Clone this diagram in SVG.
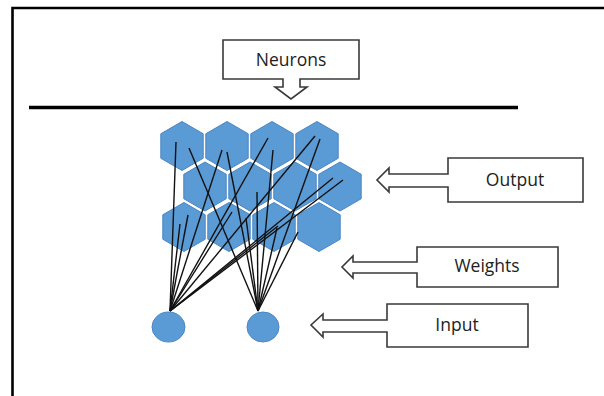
<svg xmlns="http://www.w3.org/2000/svg" width="604" height="396" viewBox="0 0 604 396">
<defs>
<style>
.frame{stroke:#000;stroke-width:2.6;fill:none}
.callout{fill:#fff;stroke:#3a3a3a;stroke-width:1.6;stroke-linejoin:miter}
.lbl{font-family:"Open Sans","DejaVu Sans",sans-serif;font-size:17.5px;fill:#222;text-anchor:middle}
.hex{fill:#5B9BD5;stroke:#4a86c2;stroke-width:1}
.node{fill:#5B9BD5;stroke:#4a86c2;stroke-width:1}
.w{stroke:#111;stroke-width:1.4;fill:none}
</style>
<polygon id="hexshape" points="0,-24.5 21.2,-12.25 21.2,12.25 0,24.5 -21.2,12.25 -21.2,-12.25"/>
</defs>
<rect width="604" height="396" fill="#fff"/>
<path class="frame" d="M12.5,396 V8 H604"/>
<line x1="29" y1="107.5" x2="518" y2="107.5" stroke="#000" stroke-width="3.5"/>

<g id="neurons-label">
<path class="callout" d="M223,40 H359 V79 H300 V87 H307 L291,99 L275,87 H283 V79 H223 Z"/>
<text class="lbl" x="291" y="66">Neurons</text>
</g>
<g id="output-label">
<path class="callout" d="M448,158 H583 V202 H448 V187 H389 V192 L377,180 L389,168 V174 H448 Z"/>
<text class="lbl" x="515" y="186">Output</text>
</g>
<g id="weights-label">
<path class="callout" d="M417,247 H558 V287 H417 V273 H353 V278 L342,267 L353,256 V262 H417 Z"/>
<text class="lbl" x="487" y="272">Weights</text>
</g>
<g id="input-label">
<path class="callout" d="M387,304 H528 V347 H387 V332 H323 V337 L311,325 L323,314 V320 H387 Z"/>
<text class="lbl" x="457" y="331">Input</text>
</g>

<g id="output-neurons">
<use href="#hexshape" class="hex" x="182" y="146"/>
<use href="#hexshape" class="hex" x="227" y="146"/>
<use href="#hexshape" class="hex" x="272" y="146"/>
<use href="#hexshape" class="hex" x="317" y="146"/>
<use href="#hexshape" class="hex" x="205" y="186.5"/>
<use href="#hexshape" class="hex" x="250" y="186.5"/>
<use href="#hexshape" class="hex" x="295" y="186.5"/>
<use href="#hexshape" class="hex" x="340" y="186.5"/>
<use href="#hexshape" class="hex" x="184" y="227"/>
<use href="#hexshape" class="hex" x="229" y="227"/>
<use href="#hexshape" class="hex" x="274" y="227"/>
<use href="#hexshape" class="hex" x="319" y="227"/>
</g>

<g id="weights">
<line class="w" x1="170" y1="311" x2="176" y2="142"/>
<line class="w" x1="170" y1="311" x2="180" y2="224"/>
<line class="w" x1="170" y1="311" x2="188" y2="215"/>
<line class="w" x1="170" y1="311" x2="222" y2="150"/>
<line class="w" x1="170" y1="311" x2="232" y2="212"/>
<line class="w" x1="170" y1="311" x2="268" y2="138"/>
<line class="w" x1="170" y1="311" x2="315" y2="136"/>
<line class="w" x1="170" y1="311" x2="333" y2="178"/>
<line class="w" x1="170" y1="311" x2="343" y2="180"/>
<line class="w" x1="170" y1="311" x2="278" y2="226"/>
<line class="w" x1="258" y1="311" x2="189" y2="148"/>
<line class="w" x1="258" y1="311" x2="227" y2="152"/>
<line class="w" x1="258" y1="311" x2="246" y2="218"/>
<line class="w" x1="258" y1="311" x2="257" y2="192"/>
<line class="w" x1="258" y1="311" x2="273" y2="150"/>
<line class="w" x1="258" y1="311" x2="277" y2="228"/>
<line class="w" x1="258" y1="311" x2="298" y2="232"/>
<line class="w" x1="258" y1="311" x2="320" y2="139"/>
</g>

<g id="input-neurons">
<ellipse class="node" cx="168.5" cy="327" rx="16.5" ry="15"/>
<ellipse class="node" cx="263" cy="327" rx="16" ry="15"/>
</g>
</svg>
